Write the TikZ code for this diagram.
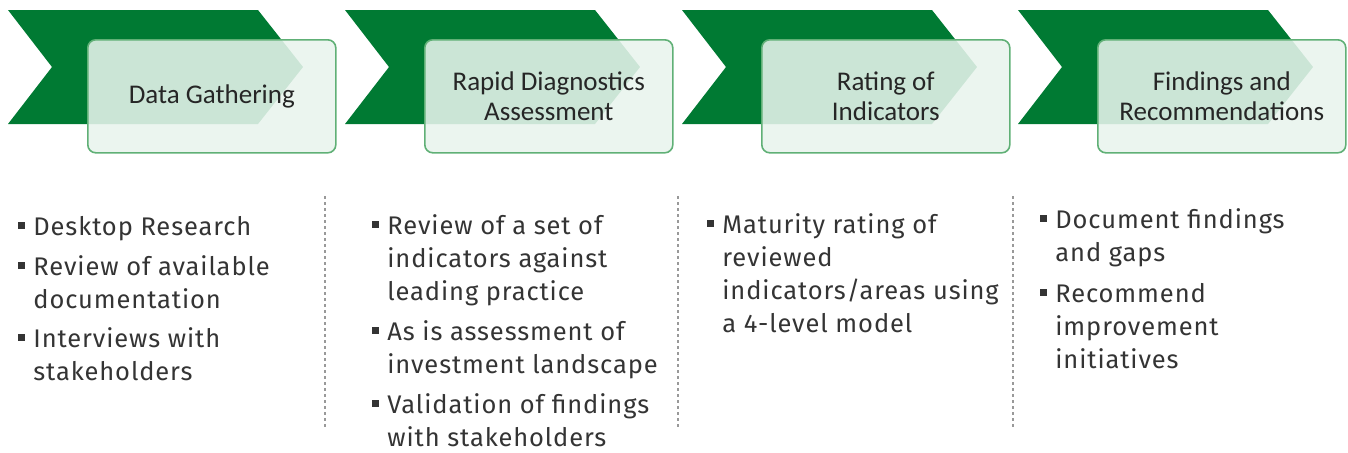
\documentclass[tikz,border=0pt]{standalone}
\usepackage{fontspec}
\setmainfont{Fira Sans}
\newfontfamily\bodyfont{Fira Sans}[LetterSpace=3.5]
\newfontfamily\headfont{Carlito}
\usetikzlibrary{positioning}
\definecolor{StageClr}{RGB}{0,122,51}
\definecolor{BoxClr}{RGB}{232,244,237}
\definecolor{BoxLineClr}{RGB}{96,176,118}
\definecolor{TextClr}{RGB}{52,52,52}

\begin{document}
\begin{tikzpicture}[x=0.5pt,y=-0.5pt,
  stage/.style={fill=StageClr},
  stagebox/.style={draw=BoxLineClr,line width=0.8pt,fill=BoxClr,fill opacity=0.88,
    draw opacity=1,text opacity=1,rounded corners=4pt,minimum width=124pt,
    minimum height=56.5pt,align=center,anchor=north west,text=black!85,
    font=\headfont\fontsize{13.5pt}{15.25pt}\selectfont},
  point/.style={anchor=base west,inner sep=0pt,text=TextClr,
    font=\bodyfont\fontsize{12.75pt}{16.65pt}\selectfont},
  divider/.style={draw=gray!80,line width=0.6pt,dash pattern=on 1.5pt off 1.5pt}]
\useasboundingbox (0,0) rectangle (1348,452);

% chevrons and their boxes
\foreach \x/\n/\t in {0/a/{Data Gathering},
                      337/b/{Rapid Diagnostics\\Assessment},
                      674/c/{Rating of\\Indicators},
                      1010/d/{Findings and\\Recommendations}}{
  \fill[stage] (\x+8,10) -- ++(250,0) -- ++(45,57) -- ++(-45,57) -- ++(-250,0) -- ++(44,-57) -- cycle;
  \node[stagebox] (box\n) at (\x+87,39) {\t};
}

% dashed separators
\draw[divider] (325,196) -- (325,427);
\draw[divider] (678,196) -- (678,427);
\draw[divider] (1013,196) -- (1013,427);

% column 1
\node[point] (c1a) at (33,235) {\parbox[t]{150pt}{Desktop Research}};
\node[point] (c1b) at (33,275) {\parbox[t]{150pt}{Review of available\\documentation}};
\node[point] (c1c) at (33,347) {\parbox[t]{150pt}{Interviews with\\stakeholders}};

% column 2
\node[point] (c2a) at (387,234) {\parbox[t]{150pt}{Review of a set of\\indicators against\\leading practice}};
\node[point] (c2b) at (387,340) {\parbox[t]{150pt}{As is assessment of\\investment landscape}};
\node[point] (c2c) at (387,413) {\parbox[t]{150pt}{Validation of findings\\with stakeholders}};

% column 3
\node[point] (c3a) at (722,233) {\parbox[t]{150pt}{Maturity rating of\\reviewed\\indicators/areas using\\a 4-level model}};

% column 4
\node[point] (c4a) at (1055,228) {\parbox[t]{150pt}{Document findings\\and gaps}};
\node[point] (c4b) at (1055,302) {\parbox[t]{150pt}{Recommend\\improvement\\initiatives}};

% square bullets
\foreach \n in {c1a,c1b,c1c,c2a,c2b,c2c,c3a,c4a,c4b}
  \fill[TextClr] ([shift={(-7.5pt,3pt)}]\n.base west) rectangle ++(3.3pt,3.3pt);
\end{tikzpicture}
\end{document}
